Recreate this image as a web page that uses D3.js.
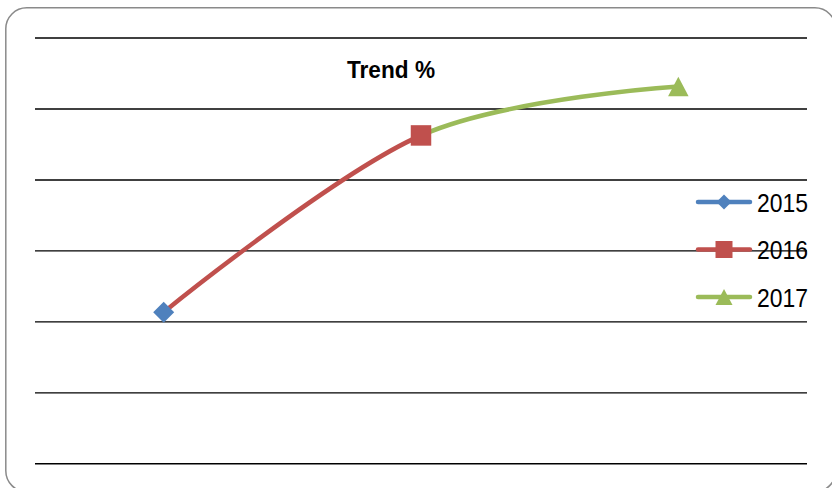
<!DOCTYPE html>
<html>
<head>
<meta charset="utf-8">
<script src="https://cdn.jsdelivr.net/npm/d3@7"></script>
<style>
  html, body { margin: 0; padding: 0; background: #fff; }
  svg { display: block; }
</style>
</head>
<body>
<svg id="chart" width="832" height="488"></svg>
<script>
// ---- data ----
const categories = ["2015", "2016", "2017"];
const trendValues = [21.3, 46.2, 53.1];
const yTicks = [0, 10, 20, 30, 40, 50, 60];
const seriesNames = ["2015", "2016", "2017"];
const seriesColors = ["#4F81BD", "#C0504D", "#9BBB59"];
const seriesMarkers = ["diamond", "square", "triangle"];
const chartTitle = "Trend %";

// ---- layout ----
const W = 832, H = 488;
const plot = { left: 35, right: 807, top: 37.5, bottom: 463.3 };
const svg = d3.select("#chart");

// outer rounded border
svg.append("rect")
  .attr("x", 5.8).attr("y", 7.8)
  .attr("width", 830).attr("height", 484)
  .attr("rx", 21).attr("ry", 21)
  .attr("fill", "#fff")
  .attr("stroke", "#8a8a8a").attr("stroke-width", 1.5);

const x = d3.scaleBand().domain(categories).range([plot.left, plot.right]);
const y = d3.scaleLinear().domain([0, 60]).range([plot.bottom, plot.top]);
const cx = d => x(d) + x.bandwidth() / 2;

// gridlines via axis
const grid = svg.append("g")
  .attr("transform", `translate(${plot.left},0)`)
  .call(d3.axisRight(y).tickValues(yTicks).tickSize(plot.right - plot.left).tickFormat(""));
grid.select(".domain").remove();
grid.selectAll(".tick line").attr("stroke", "#000").attr("stroke-width", 1.4);

// title
svg.append("text")
  .attr("x", 391).attr("y", 77.5)
  .attr("text-anchor", "middle")
  .attr("font-family", "'Liberation Sans', Arial, sans-serif")
  .attr("font-weight", "bold")
  .attr("font-size", 23)
  .attr("textLength", 88).attr("lengthAdjust", "spacingAndGlyphs")
  .attr("fill", "#000")
  .text(chartTitle);

// smoothed line, split in segments coloured by the series of the end point
const pts = categories.map((c, i) => [cx(c), y(trendValues[i])]);
const line = d3.line().curve(d3.curveCardinal.tension(0));
const defs = svg.append("defs");
for (let i = 1; i < pts.length; i++) {
  const x0 = pts[i - 1][0], x1 = pts[i][0];
  defs.append("clipPath").attr("id", "seg" + i)
    .append("rect")
    .attr("x", i === 1 ? 0 : x0).attr("y", 0)
    .attr("width", (i === pts.length - 1 ? W : x1) - (i === 1 ? 0 : x0))
    .attr("height", H);
  svg.append("path")
    .attr("d", line(pts))
    .attr("fill", "none")
    .attr("stroke", seriesColors[i])
    .attr("stroke-width", 4.5)
    .attr("stroke-linecap", "round")
    .attr("clip-path", `url(#seg${i})`);
}

function marker(g, type, cxv, cyv, size, color) {
  let s;
  if (type === "diamond") s = d3.symbol(d3.symbolDiamond2 || d3.symbolDiamond, size * size * 0.5);
  if (type === "square") s = d3.symbol(d3.symbolSquare, size * size);
  if (type === "triangle") s = d3.symbol(d3.symbolTriangle, size * size * 0.433);
  let p;
  if (type === "diamond") {
    const h = size / 2;
    p = `M${cxv},${cyv - h}L${cxv + h},${cyv}L${cxv},${cyv + h}L${cxv - h},${cyv}Z`;
  } else if (type === "square") {
    const h = size / 2;
    p = `M${cxv - h},${cyv - h}h${size}v${size}h${-size}Z`;
  } else {
    const h = size / 2;
    p = `M${cxv},${cyv - h * 0.95}L${cxv + h},${cyv + h * 0.95}L${cxv - h},${cyv + h * 0.95}Z`;
  }
  g.append("path").attr("d", p).attr("fill", color);
}

// data markers
const mg = svg.append("g");
pts.forEach((p, i) => {
  const sz = seriesMarkers[i] === "diamond" ? 21 : 20.5;
  marker(mg, seriesMarkers[i], p[0], p[1] + (seriesMarkers[i] === "triangle" ? 0 : 0), sz, seriesColors[i]);
});

// legend
const legendY = [202, 249.5, 297];
const lg = svg.append("g");
seriesNames.forEach((name, i) => {
  const ly = legendY[i];
  lg.append("line")
    .attr("x1", 698).attr("x2", 750).attr("y1", ly).attr("y2", ly)
    .attr("stroke", seriesColors[i]).attr("stroke-width", 4.5)
    .attr("stroke-linecap", "round");
  const sz = seriesMarkers[i] === "diamond" ? 15 : 17;
  marker(lg, seriesMarkers[i], 724, ly, sz, seriesColors[i]);
  lg.append("text")
    .attr("x", 757).attr("y", ly + 9.5)
    .attr("font-family", "'Liberation Sans', Arial, sans-serif")
    .attr("font-size", 25)
    .attr("textLength", 51).attr("lengthAdjust", "spacingAndGlyphs")
    .attr("fill", "#000")
    .text(name);
});
</script>
</body>
</html>
